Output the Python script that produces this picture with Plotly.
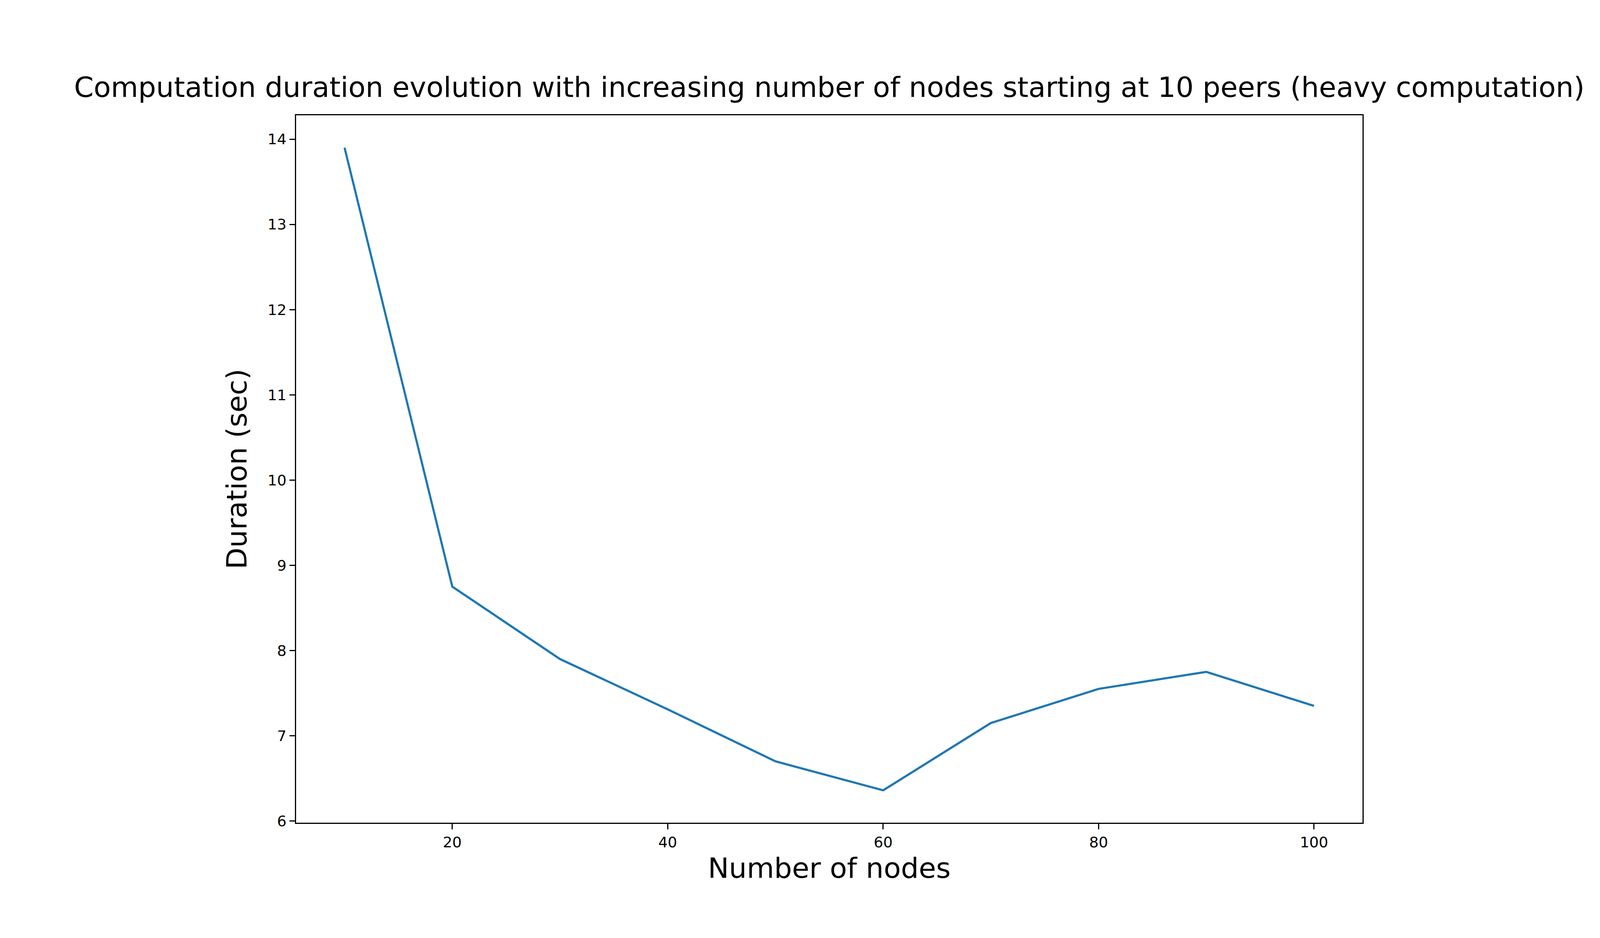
import plotly.graph_objs as go

# Duration per number of nodes (heavy computation)
nodes = [10, 20, 30, 40, 50, 60, 70, 80, 90, 100]
duration = [13.9, 8.75, 7.9, 7.31, 6.70, 6.36, 7.15, 7.55, 7.75, 7.35]

x_ticks = [20, 40, 60, 80, 100]
y_ticks = [6, 7, 8, 9, 10, 11, 12, 13, 14]

fig = go.Figure()

fig.add_trace(go.Scatter(
    x=nodes,
    y=duration,
    mode="lines",
    line=dict(color="#1f77b4", width=5.5),
    showlegend=False
))

axis_common = dict(
    showgrid=False,
    zeroline=False,
    showline=True,
    linecolor="black",
    linewidth=3,
    mirror=True,
    ticks="outside",
    ticklen=14,
    tickwidth=3,
    tickcolor="black",
    tickfont=dict(size=38, color="black"),
)

fig.update_layout(
    autosize=True,
    paper_bgcolor="white",
    plot_bgcolor="white",
    font=dict(family="DejaVu Sans", color="black"),
    margin=dict(l=750, r=600, t=287, b=303),
    title=dict(
        text="Computation duration evolution with increasing number of nodes starting at 10 peers (heavy computation)",
        x=0.5, xanchor="center", xref="paper",
        y=0.9, yanchor="bottom",
        font=dict(size=72, color="black"),
    ),
    xaxis=dict(axis_common, range=[5.5, 104.5], tickvals=x_ticks,
               title=dict(text="Number of nodes", font=dict(size=72), standoff=20)),
    yaxis=dict(axis_common, range=[5.98, 14.28], tickvals=y_ticks,
               title=dict(text="Duration (sec)", font=dict(size=72), standoff=30)),
)

fig.write_html("out.html", default_width="100%", default_height="100vh",
               config={"responsive": True})
